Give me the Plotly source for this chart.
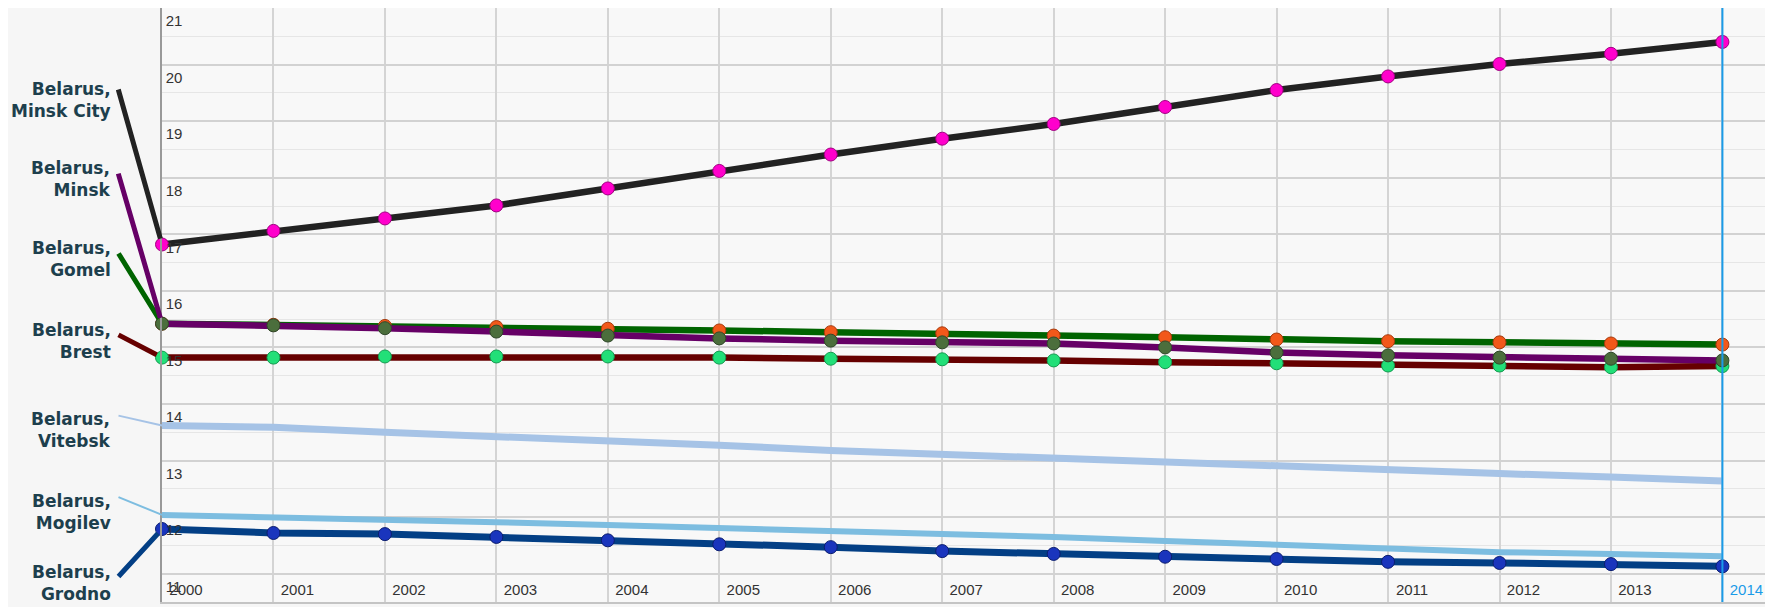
import plotly.graph_objects as go

years = list(range(2000, 2015))

minsk_city = [16.82, 17.06, 17.28, 17.51, 17.81, 18.12, 18.41, 18.69, 18.95, 19.25, 19.55, 19.79, 20.01, 20.19, 20.40]
minsk = [15.42, 15.39, 15.34, 15.28, 15.21, 15.16, 15.12, 15.09, 15.07, 15.00, 14.91, 14.86, 14.82, 14.80, 14.77]
gomel = [15.42, 15.40, 15.38, 15.36, 15.33, 15.30, 15.27, 15.25, 15.21, 15.18, 15.14, 15.11, 15.09, 15.07, 15.05]
brest = [14.82, 14.82, 14.84, 14.84, 14.84, 14.82, 14.80, 14.79, 14.77, 14.74, 14.72, 14.68, 14.68, 14.65, 14.67]
vitebsk = [13.62, 13.59, 13.50, 13.43, 13.34, 13.27, 13.18, 13.11, 13.02, 12.96, 12.88, 12.83, 12.77, 12.71, 12.64]
mogilev = [12.04, 12.00, 11.97, 11.91, 11.86, 11.81, 11.75, 11.70, 11.65, 11.58, 11.51, 11.45, 11.38, 11.35, 11.31]
grodno = [11.79, 11.72, 11.70, 11.65, 11.59, 11.52, 11.47, 11.40, 11.35, 11.30, 11.26, 11.21, 11.19, 11.17, 11.13]

labels = {
    "Vitebsk": "Belarus,<br>Vitebsk",
    "Mogilev": "Belarus,<br>Mogilev",
    "Grodno": "Belarus,<br>Grodno",
    "Brest": "Belarus,<br>Brest",
    "Gomel": "Belarus,<br>Gomel",
    "Minsk": "Belarus,<br>Minsk",
    "Minsk City": "Belarus,<br>Minsk City",
}

# drawing order, styles
series = [
    # name, values, line color, line width, marker color, marker line,
    # connector width, connector tail offset (px), extra label drop (px)
    ("Vitebsk", vitebsk, "#a6c3e6", 7, None, None, 2, (-44, -10), 8),
    ("Mogilev", mogilev, "#7dbde0", 6, None, None, 2, (-44, -18), 9),
    ("Grodno", grodno, "#033f85", 7, "#1a35bd", "#0b1d6e", 5, (-44, 48), 0),
    ("Brest", brest, "#660000", 6.5, "#22df78", "#159a50", 5, (-44, -23), 0),
    ("Gomel", gomel, "#006400", 6.5, "#f2581a", "#a63a0c", 5, (-44, -71), 0),
    ("Minsk", minsk, "#660066", 6.5, "#4b6e3c", "#30482a", 5, (-44, -151), 0),
    ("Minsk City", minsk_city, "#222222", 6.5, "#ff00cc", "#a00080", 5, (-44, -156), 6),
]

fig = go.Figure()
annotations = []
for name, vals, lc, lw, mc, ml, cw, (ax, ay), drop in series:
    if mc:
        fig.add_trace(go.Scatter(
            x=years, y=vals, mode="lines+markers", name=name,
            line=dict(color=lc, width=lw),
            marker=dict(size=13, color=mc, line=dict(color=ml, width=1)),
            cliponaxis=False, showlegend=False))
    else:
        fig.add_trace(go.Scatter(
            x=years, y=vals, mode="lines", name=name,
            line=dict(color=lc, width=lw),
            cliponaxis=False, showlegend=False))
    # connector from label to first point
    annotations.append(dict(
        x=years[0], y=vals[0], xref="x", yref="y", text=" ",
        font=dict(size=1), showarrow=True, arrowhead=0, arrowwidth=cw,
        arrowcolor=lc, ax=ax, ay=ay, standoff=6 if mc else 0, borderpad=0))
    # label text
    annotations.append(dict(
        x=years[0], y=vals[0], xref="x", yref="y", text=labels[name],
        showarrow=False, xanchor="right", yanchor="top", align="right",
        xshift=ax - 5, yshift=17 - ay - drop,
        font=dict(family="DejaVu Sans", size=17, color="#1d3f4d", weight="bold")))

ticktext = [str(y) for y in years[:-1]] + ['<span style="color:#1a9be8">%d</span>' % years[-1]]

# the page body adds an 8px offset, so the figure is sized/margined to compensate
fig.update_layout(
    width=1765, height=599,
    margin=dict(l=154, r=6, t=0, b=5),
    paper_bgcolor="#f6f6f6",
    plot_bgcolor="#f8f8f8",
    annotations=annotations,
    shapes=[dict(type="line", xref="x", yref="paper", x0=years[-1], x1=years[-1],
                 y0=0, y1=1, line=dict(color="#1a9be8", width=2), layer="above")],
    xaxis=dict(
        range=[2000, 2014.4], tickvals=years, ticktext=ticktext,
        ticklabelposition="inside", ticklabelshift=24, ticklabelstandoff=4,
        ticklabeloverflow="allow", ticks="", automargin=False,
        tickfont=dict(family="Liberation Sans", size=15, color="#333333"),
        showgrid=True, gridcolor="#d4d4d4", gridwidth=1.5,
        showline=True, linecolor="#c4c4c4", linewidth=1.5, mirror=True,
        zeroline=False),
    yaxis=dict(
        range=[10.5, 21], dtick=1, tick0=0,
        ticklabelposition="inside", ticklabelshift=13, ticklabelstandoff=4,
        ticklabeloverflow="allow", ticks="", automargin=False,
        tickfont=dict(family="Liberation Sans", size=15, color="#333333"),
        showgrid=True, gridcolor="#d2d2d2", gridwidth=1.5,
        minor=dict(dtick=0.5, showgrid=True, gridcolor="#e6e6e6", gridwidth=1),
        showline=True, linecolor="#999999", linewidth=1.5, mirror=True,
        zeroline=False),
)

fig.write_html("out.html")
